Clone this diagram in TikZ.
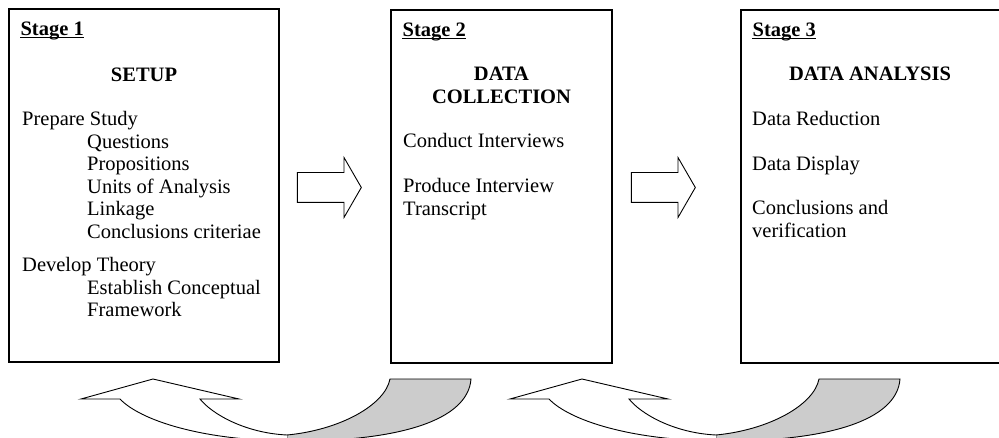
\documentclass[tikz,border=0pt]{standalone}
\usepackage{fontspec}
\setmainfont{Liberation Serif}
\usetikzlibrary{shapes.arrows, calc, positioning}

\tikzset{
	stagebox/.style={draw, line width=1.2pt, inner sep=0},
	stagelab/.style={anchor=base west, font=\fontsize{20.5}{22.5}\selectfont\bfseries},
	headline/.style={anchor=base, font=\fontsize{20.5}{22.5}\selectfont\bfseries},
	txt/.style={anchor=base west},
	blockarrow/.style={draw, single arrow, line width=0.9pt, minimum height=64pt, minimum width=59pt, inner xsep=0, inner ysep=14.5pt, single arrow head extend=15pt, single arrow tip angle=120},
	backband/.style={draw, line width=0.9pt, fill=gray!40},
	band/.style={line width=0.9pt}
}

\begin{document}
\begin{tikzpicture}[x=1pt, y=-1pt, every node/.style={inner sep=0, font=\fontsize{20.5}{22.5}\selectfont}]
	\useasboundingbox (0,0) rectangle (999,438);
	\clip (0,0) rectangle (999,438);

	% the three stages
	\node[stagebox, minimum width=270, minimum height=353] (stage1) at (144,185.5) {};
	\node[stagebox, minimum width=221, minimum height=353] (stage2) at (501.5,186.5) {};
	\node[stagebox, minimum width=280, minimum height=353] (stage3) at (881,186.5) {};
	\foreach \i in {1,2,3} {
			\node[stagelab] (lab\i) at ($(stage\i.north west)+(12,27.5)$) {Stage \i};
			\draw[line width=0.8pt] ([yshift=-1.5pt]lab\i.base west) -- ([yshift=-1.5pt]lab\i.base east);
		}

	% stage 1
	\node[headline] (setup) at (144,82) {SETUP};
	\node[txt] (prep) at (22,126) {Prepare Study};
	\foreach \t [count=\k from 0] in {Questions, Propositions, Units of Analysis, Linkage, Conclusions criteriae}
	\node[txt] (prep\k) at (87,{148.5+22.5*\k}) {\t};
	\node[txt] (dev) at (22,272) {Develop Theory};
	\node[txt] (dev0) at (87,294.5) {Establish Conceptual};
	\node[txt] (dev1) at (87,317) {Framework};

	% stage 2
	\node[headline] (coll0) at (501.5,81) {DATA};
	\node[headline] (coll1) at (501.5,103.5) {COLLECTION};
	\node[txt] (interv) at (403,148) {Conduct Interviews};
	\node[txt] (trans0) at (403,193) {Produce Interview};
	\node[txt] (trans1) at (403,215.5) {Transcript};

	% stage 3
	\node[headline] (anal) at (870,81) {DATA ANALYSIS};
	\node[txt] (reduc) at (752,126) {Data Reduction};
	\node[txt] (disp) at (752,171) {Data Display};
	\node[txt] (concl0) at (752,215) {Conclusions and};
	\node[txt] (concl1) at (752,237.5) {verification};

	% arrows between stages
	\node[blockarrow] (go12) at (325,187.5) {};
	\node[blockarrow] (go23) at (659,187.5) {};

	% curved arrows back
	\foreach \dx in {0,429} {
			\begin{scope}[xshift=\dx]
				\draw[backband] (287,435) .. controls (340,430) and (385,405) .. (390,379)
				-- (471,379) .. controls (468,420) and (400,442) .. (287,441) -- cycle;
				\fill[white] (120,399) -- (81,399) -- (153,379) -- (239,399) -- (200,399)
				.. controls (212,414) and (245,433) .. (287,435) -- (287,441)
				.. controls (200,440) and (140,420) .. (120,399) -- cycle;
				\draw[band] (287,435) .. controls (245,433) and (212,414) .. (200,399)
				-- (239,399) -- (153,379) -- (81,399) -- (120,399)
				.. controls (140,420) and (200,440) .. (287,441);
			\end{scope}
		}
\end{tikzpicture}
\end{document}
